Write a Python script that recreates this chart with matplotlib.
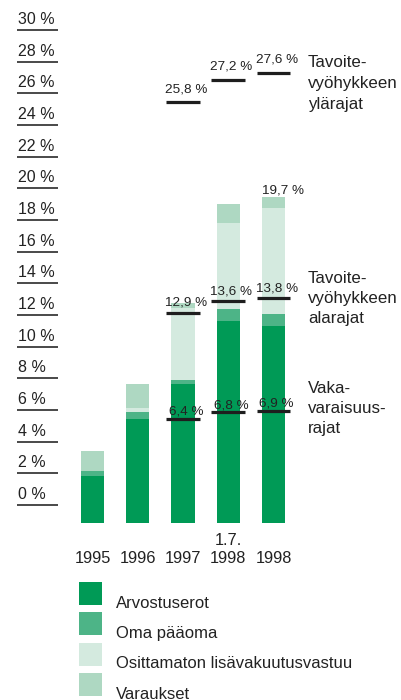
import numpy as np
import matplotlib.pyplot as plt
from matplotlib.patches import Rectangle

plt.rcParams['font.family'] = ['Liberation Sans', 'DejaVu Sans']

# data (per cent)
years = ["1995", "1996", "1997", "1998", "1998"]
year_tops = ["", "", "", "1.7.", ""]

arvostuserot = [2.9, 6.4, 8.5, 12.4, 12.1]
oma_paaoma = [0.3, 0.4, 0.3, 0.7, 0.7]
osittamaton = [0.0, 0.25, 4.4, 5.3, 6.5]
varaukset = [1.2, 1.5, 0.3, 1.2, 0.7]

series_names = ["Arvostuserot", "Oma pääoma",
                "Osittamaton lisävakuutusvastuu", "Varaukset"]
colors = ["#009a56", "#4db487", "#d4eadf", "#aed8c2"]

# target zone limits and solvency limits, 1997 onwards
limit_idx = [2, 3, 4]
upper = [25.8, 27.2, 27.6]
lower = [12.9, 13.6, 13.8]
solvency = [6.4, 6.8, 6.9]
total_idx = 4
total_label = 19.7

scale_ticks = np.arange(0, 31, 2)

txt = "#222222"


def fmt(v):
    return f"{v:.1f}".replace(".", ",") + " %"


fig = plt.figure(figsize=(4.01, 7.0), dpi=100)
W, H = 401, 700

# main bar axes (bars drawn from a common baseline)
ax = fig.add_axes([60 / W, 170 / H, 240 / W, 510 / H])
ax.set_xlim(-0.718, 4.586)
ax.set_ylim(-0.43, 30.86)
ax.axis("off")

x = np.arange(len(years))
bottom = np.zeros(len(years))
for vals, c in zip([arvostuserot, oma_paaoma, osittamaton, varaukset], colors):
    ax.bar(x, vals, bottom=bottom, width=0.51, color=c, linewidth=0)
    bottom += np.array(vals)

xl = x[limit_idx]
for vals, off in [(upper, 7.5), (lower, 5.0), (solvency, 2.8)]:
    ax.hlines(vals, xl - 0.37, xl + 0.37, color="#1e1e1e", lw=2.3, zorder=3)
    for xi, v in zip(xl, vals):
        ax.annotate(fmt(v), xy=(xi + 0.07, v), xytext=(0, off),
                    textcoords="offset points", ha="center", va="baseline",
                    fontsize=9.7, color=txt, zorder=4)

ax.annotate(fmt(total_label), xy=(x[total_idx] + 0.2, bottom[total_idx]),
            xytext=(0, 2.5), textcoords="offset points", ha="center",
            va="baseline", fontsize=9.7, color=txt)

for xi, y, t in zip(x, years, year_tops):
    ax.annotate(y, xy=(xi, 0), xytext=(0, -29), textcoords="offset points",
                ha="center", va="baseline", fontsize=11.8, color=txt,
                annotation_clip=False)
    if t:
        ax.annotate(t, xy=(xi, 0), xytext=(0, -15.5), textcoords="offset points",
                    ha="center", va="baseline", fontsize=11.8, color=txt,
                    annotation_clip=False)

# percentage scale on the left
sc = fig.add_axes([10 / W, 170 / H, 60 / W, 510 / H])
sc.set_xlim(10, 70)
sc.set_ylim(-1.579, 30.64)
sc.axis("off")
sc.hlines(scale_ticks, 17, 58, color="#3a3a3a", lw=1.3)
for v in scale_ticks:
    sc.annotate(f"{v} %", xy=(17.5, v), xytext=(0, 4.3),
                textcoords="offset points", ha="left", va="baseline",
                fontsize=11.5, color=txt)

# overlay for legend and side notes, in pixels
lay = fig.add_axes([0, 0, 1, 1])
lay.set_xlim(0, W)
lay.set_ylim(H, 0)
lay.axis("off")

for i, (name, c) in enumerate(zip(series_names, colors)):
    top = 582 + i * 30.4
    lay.add_patch(Rectangle((79, top), 23, 23, color=c, lw=0))
    lay.text(116, top + 21, name, va="center", ha="left", fontsize=12, color=txt)

notes = [("Tavoite-\nvyöhykkeen\nylärajat", 55, 1.5),
         ("Tavoite-\nvyöhykkeen\nalarajat", 271, 1.4),
         ("Vaka-\nvaraisuus-\nrajat", 381, 1.4)]
for t, y, ls in notes:
    lay.text(308, y, t, va="top", ha="left", fontsize=12.2, color=txt,
             linespacing=ls)

fig.savefig("out.png", dpi=100)
